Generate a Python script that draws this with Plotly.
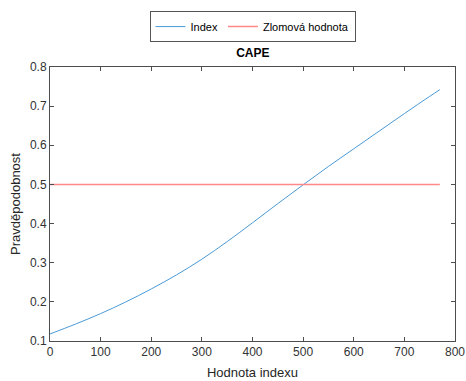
import plotly.graph_objects as go

x_vals = [0, 50, 100, 150, 200, 250, 300, 350, 400, 450, 500, 550, 600, 650, 700, 750, 770]
index_vals = [0.118, 0.143, 0.170, 0.200, 0.233, 0.269, 0.309, 0.354, 0.402, 0.451, 0.499,
              0.546, 0.591, 0.636, 0.681, 0.725, 0.742]
threshold_x = [0, 770]
threshold_vals = [0.5, 0.5]

title_text = "CAPE"
x_title = "Hodnota indexu"
y_title = "Pravděpodobnost"

font = "Liberation Sans, Arial, sans-serif"
axis_color = "#4d4d4d"

fig = go.Figure()
fig.add_trace(go.Scatter(x=x_vals, y=index_vals, mode="lines", name="Index",
                         line=dict(color="#4a9ad6", width=1, shape="spline", smoothing=1)))
fig.add_trace(go.Scatter(x=threshold_x, y=threshold_vals, mode="lines", name="Zlomová hodnota",
                         line=dict(color="#ff8888", width=1.5)))

common = dict(showgrid=False, zeroline=False, showline=True, linecolor=axis_color, linewidth=1,
              mirror="ticks", ticks="inside", ticklen=4, tickcolor=axis_color, automargin=False,
              tickfont=dict(family=font, size=12, color="#333333"))

fig.update_layout(
    width=466, height=381,
    margin=dict(l=50, r=11, t=63, b=40),
    paper_bgcolor="white", plot_bgcolor="white",
    font=dict(family=font, color="#262626"),
    title=dict(text="<b>" + title_text + "</b>", x=0.5425, xanchor="center",
               y=1 - 53 / 381, yanchor="middle", font=dict(size=12, color="#000000")),
    xaxis=dict(range=[0, 800], tickvals=[0, 100, 200, 300, 400, 500, 600, 700, 800],
               title=dict(text=x_title, font=dict(size=13, color="#262626"), standoff=9), **common),
    yaxis=dict(range=[0.1, 0.8], tickvals=[0.1, 0.2, 0.3, 0.4, 0.5, 0.6, 0.7, 0.8],
               tickformat=".1f",
               title=dict(text=y_title, font=dict(size=13, color="#262626"), standoff=6), **common),
    legend=dict(orientation="h", x=0.5, xanchor="center", y=1 + 41 / 278, yanchor="middle",
                bordercolor="#555555", borderwidth=1, bgcolor="white",
                font=dict(family=font, size=11, color="#000000"),
                itemwidth=30, tracegroupgap=0),
    showlegend=True,
)

fig.write_html("out.html")
